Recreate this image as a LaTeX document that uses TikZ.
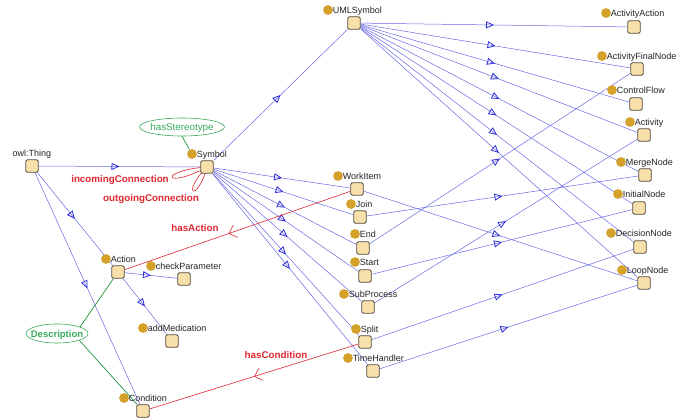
\documentclass[tikz,border=0pt]{standalone}
\usepackage{fontspec}
\setmainfont{Liberation Sans}
\usetikzlibrary{arrows.meta,decorations.markings,shapes.geometric,backgrounds}
\definecolor{bline}{RGB}{105,105,230}
\definecolor{bhead}{RGB}{45,45,215}
\definecolor{boxfill}{RGB}{248,224,170}
\definecolor{boxdraw}{RGB}{85,75,65}
\definecolor{dotfill}{RGB}{212,162,42}
\definecolor{relcol}{RGB}{222,38,48}
\definecolor{gline}{RGB}{30,150,60}
\definecolor{gtext}{RGB}{55,170,90}
\definecolor{labeltext}{RGB}{35,35,35}
\newcommand\ontoclass[6]{%
  \node[obox] (#1) at (#2,#3) {};
  \node[odot] (#1-dot) at (#4,#5) {};
  \node[olabel] (#1-lbl) at ({#4+4.6},{#5+3.3}) {#6};}
\begin{document}
\begin{tikzpicture}[x=1pt,y=-1pt,
  obox/.style={draw=boxdraw, fill=boxfill, line width=0.9pt, rounded corners=1.4pt, minimum size=12.5pt, inner sep=0pt},
  odot/.style={circle, fill=dotfill, minimum size=9.8pt, inner sep=0pt},
  olabel/.style={anchor=base west, inner sep=0pt, font=\fontsize{9}{10}\selectfont, text=labeltext},
  isa/.style={draw=bline, line width=0.5pt, postaction={decorate},
    decoration={markings, mark=at position 0.5 with {\arrow[bhead, line width=0.8pt]{Triangle[open,length=8pt,width=7pt]}}}},
  relation/.style={draw=relcol, line width=0.6pt, postaction={decorate},
    decoration={markings, mark=at position #1 with {\arrow[relcol, line width=0.6pt]{Straight Barb[length=7pt,width=13pt]}}}},
  relation/.default=0.55,
  rellabel/.style={anchor=base, inner sep=0pt, text=relcol, font=\fontsize{9.8}{11}\selectfont\bfseries},
  gellipse/.style={ellipse, draw=gtext, line width=0.6pt, inner sep=0pt},
  glabel/.style={anchor=base, inner sep=0pt, text=gtext, font=\fontsize{9.8}{11}\selectfont},
  gconn/.style={draw=gline, line width=0.7pt}
]
\useasboundingbox (0,0) rectangle (685,420);

% classes
\node[obox] (thing) at (32,166) {};
\node[olabel, anchor=base] (thing-lbl) at (32,156.5) {owl:Thing};
\ontoclass{symbol}{207}{167}{192}{154}{Symbol}
\ontoclass{uml}{354}{23}{328}{10}{UMLSymbol}
\ontoclass{workitem}{357}{189}{338}{176}{WorkItem}
\ontoclass{join}{360}{217}{351}{204}{Join}
\ontoclass{endn}{363}{248}{355}{234}{End}
\ontoclass{start}{365}{276}{355}{262}{Start}
\ontoclass{subprocess}{368}{307}{344}{294}{SubProcess}
\ontoclass{split}{365}{342}{356}{329}{Split}
\ontoclass{timehandler}{373}{371}{348}{358}{TimeHandler}
\ontoclass{action}{118}{272}{106}{259}{Action}
\ontoclass{checkparam}{184}{279}{151}{266}{checkParameter}
\ontoclass{addmed}{172}{341}{143}{328}{addMedication}
\ontoclass{condition}{143}{411}{124}{398}{Condition}
\ontoclass{actaction}{634}{27}{606}{13}{ActivityAction}
\ontoclass{actfinal}{637}{69}{602}{56}{ActivityFinalNode}
\ontoclass{controlflow}{636}{104}{612}{90}{ControlFlow}
\ontoclass{activity}{644}{135}{630}{122}{Activity}
\ontoclass{merge}{645}{175}{621}{162}{MergeNode}
\ontoclass{initial}{639}{208}{618}{194}{InitialNode}
\ontoclass{decision}{640}{247}{611}{233}{DecisionNode}
\ontoclass{loopn}{644}{283}{622}{270}{LoopNode}

% annotation ellipses
\node[gellipse, minimum width=85pt, minimum height=18pt] (stereo) at (182,127) {};
\node[glabel] (stereo-lbl) at (182,130.5) {hasStereotype};
\node[gellipse, minimum width=62pt, minimum height=19pt] (desc) at (57,333.5) {};
\node[glabel, font=\fontsize{9.5}{11}\selectfont\bfseries] (desc-lbl) at (57,337) {Description};

% relation labels
\node[rellabel] (inc-lbl) at (120,182) {incomingConnection};
\node[rellabel] (out-lbl) at (151,201) {outgoingConnection};
\node[rellabel] (hasact-lbl) at (195,231.5) {hasAction};
\node[rellabel] (hascond-lbl) at (276,358) {hasCondition};

\begin{pgfonlayer}{background}
% subclass arrows
\draw[isa] (thing) -- (symbol);
\draw[isa] (thing) -- (action);
\draw[isa] (thing) -- (condition);
\draw[isa] (symbol) -- (uml);
\draw[isa] (symbol) -- (workitem);
\draw[isa] (symbol) -- (join);
\draw[isa] (symbol) -- (endn);
\draw[isa] (symbol) -- (start);
\draw[isa] (symbol) -- (subprocess);
\draw[isa] (symbol) -- (split);
\draw[isa] (symbol) -- (timehandler);
\draw[isa] (action) -- (checkparam);
\draw[isa] (action) -- (addmed);
\draw[isa] (uml) -- (actaction);
\draw[isa] (uml) -- (actfinal);
\draw[isa] (uml) -- (controlflow);
\draw[isa] (uml) -- (activity);
\draw[isa] (uml) -- (merge);
\draw[isa] (uml) -- (initial);
\draw[isa] (uml) -- (decision);
\draw[isa] (uml) -- (loopn);
\draw[isa] (workitem) -- (loopn);
\draw[isa] (join) -- (merge);
\draw[isa] (endn) -- (actfinal);
\draw[isa] (start) -- (initial);
\draw[isa] (subprocess) -- (activity);
\draw[isa] (split) -- (decision);
\draw[isa] (timehandler) -- (loopn);
% object properties
\draw[relation=0.54] (workitem) -- (action);
\draw[relation=0.5] (split) -- (condition);
\draw[draw=relcol, line width=0.6pt] (symbol.center) .. controls +(-50,3.5) and +(-43,23.5) .. (symbol.center);
\draw[draw=relcol, line width=0.6pt] (symbol.center) .. controls +(-27,27) and +(-10,37) .. (symbol.center);
% annotations
\draw[gconn] (stereo.south) -- (symbol-dot);
\draw[gconn] (desc.16) -- (action);
\draw[gconn] (desc.-17) -- (condition);
\end{pgfonlayer}
\end{tikzpicture}
\end{document}
